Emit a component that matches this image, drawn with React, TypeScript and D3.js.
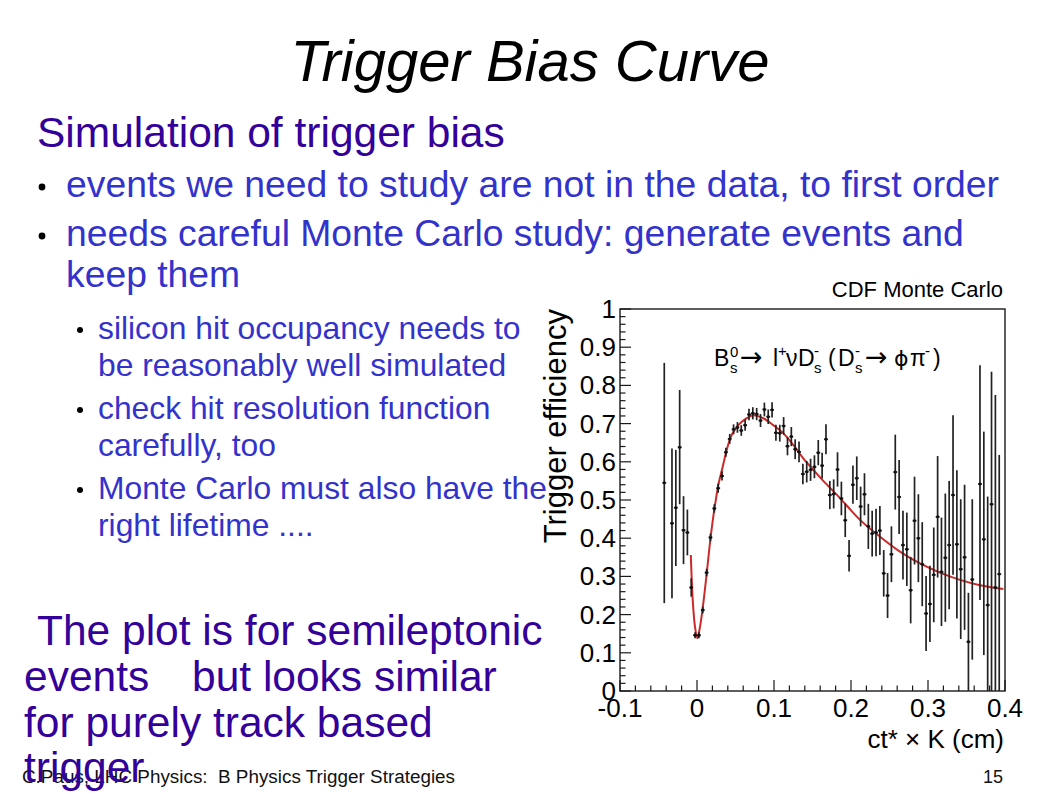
import React, { useRef, useEffect } from 'react';
import * as d3 from 'd3';

// Monte Carlo histogram: bin centre (ct* x K, cm), efficiency, lower / upper error
const binCenters = [
  -0.0425, -0.0325, -0.0275, -0.0225, -0.0175, -0.0125, -0.0075, -0.0025, 0.0025, 0.0075,
  0.0125, 0.0175, 0.0225, 0.0275, 0.0325, 0.0375, 0.0425, 0.0475, 0.0525, 0.0575,
  0.0625, 0.0675, 0.0725, 0.0775, 0.0825, 0.0875, 0.0925, 0.0975, 0.1025, 0.1075,
  0.1125, 0.1175, 0.1225, 0.1275, 0.1325, 0.1375, 0.1425, 0.1475, 0.1525, 0.1575,
  0.1625, 0.1675, 0.1725, 0.1775, 0.1825, 0.1875, 0.1925, 0.1975, 0.2025, 0.2075,
  0.2125, 0.2175, 0.2225, 0.2275, 0.2325, 0.2375, 0.2425, 0.2475, 0.2525, 0.2575,
  0.2625, 0.2675, 0.2725, 0.2775, 0.2825, 0.2875, 0.2925, 0.2975, 0.3025, 0.3075,
  0.3125, 0.3175, 0.3225, 0.3275, 0.3325, 0.3375, 0.3425, 0.3475, 0.3525, 0.3575,
  0.3675, 0.3725, 0.3775, 0.3825, 0.3875, 0.3925,
];
const efficiency = [
  0.545, 0.439, 0.48, 0.638, 0.421, 0.415, 0.271, 0.146, 0.146, 0.212,
  0.31, 0.402, 0.478, 0.531, 0.563, 0.625, 0.66, 0.685, 0.69, 0.682,
  0.696, 0.724, 0.727, 0.725, 0.708, 0.737, 0.718, 0.736, 0.676, 0.675,
  0.694, 0.641, 0.666, 0.633, 0.626, 0.568, 0.574, 0.579, 0.587, 0.624,
  0.59, 0.659, 0.513, 0.516, 0.58, 0.504, 0.447, 0.354, 0.54, 0.557,
  0.483, 0.515, 0.431, 0.412, 0.415, 0.42, 0.308, 0.25, 0.358, 0.573,
  0.508, 0.382, 0.371, 0.264, 0.446, 0.4, 0.332, 0.203, 0.228, 0.304,
  0.456, 0.312, 0.349, 0.382, 0.513, 0.384, 0.319, 0.35, 0.129, 0.292,
  0.542, 0.397, 0.225, 0.489, 0.271, 0.306,
];
const errLow = [
  0.315, 0.196, 0.153, 0.149, 0.089, 0.06, 0.024, 0.008, 0.008, 0.009,
  0.01, 0.01, 0.011, 0.012, 0.012, 0.012, 0.013, 0.013, 0.014, 0.014,
  0.015, 0.015, 0.016, 0.016, 0.017, 0.018, 0.019, 0.02, 0.021, 0.022,
  0.023, 0.024, 0.025, 0.026, 0.027, 0.027, 0.028, 0.029, 0.03, 0.033,
  0.034, 0.039, 0.037, 0.038, 0.045, 0.044, 0.044, 0.041, 0.05, 0.057,
  0.052, 0.055, 0.059, 0.06, 0.062, 0.064, 0.061, 0.059, 0.073, 0.098,
  0.097, 0.09, 0.096, 0.087, 0.115, 0.115, 0.11, 0.098, 0.1, 0.124,
  0.159, 0.142, 0.168, 0.168, 0.209, 0.194, 0.183, 0.19, 0.129, 0.21,
  0.304, 0.303, 0.225, 0.489, 0.271, 0.306,
];
const errHigh = [
  0.314, 0.196, 0.151, 0.15, 0.089, 0.06, 0.024, 0.008, 0.008, 0.009,
  0.01, 0.01, 0.011, 0.012, 0.012, 0.012, 0.013, 0.013, 0.014, 0.014,
  0.015, 0.015, 0.016, 0.016, 0.017, 0.018, 0.019, 0.02, 0.021, 0.022,
  0.023, 0.024, 0.025, 0.026, 0.027, 0.027, 0.028, 0.029, 0.03, 0.033,
  0.034, 0.039, 0.037, 0.038, 0.045, 0.044, 0.044, 0.041, 0.05, 0.057,
  0.052, 0.055, 0.059, 0.06, 0.062, 0.064, 0.061, 0.059, 0.073, 0.098,
  0.097, 0.09, 0.096, 0.087, 0.115, 0.115, 0.11, 0.098, 0.1, 0.124,
  0.159, 0.142, 0.168, 0.168, 0.209, 0.194, 0.183, 0.19, 0.128, 0.21,
  0.311, 0.282, 0.284, 0.347, 0.504, 0.312,
];

// fitted trigger bias curve
const fitX = [
  -0.008, -0.0056, -0.0026, 0.0004, 0.0039, 0.0082, 0.0126, 0.0178, 0.023, 0.0282,
  0.0334, 0.0386, 0.045, 0.0537, 0.0623, 0.0732, 0.086, 0.099, 0.112, 0.125,
  0.138, 0.151, 0.164, 0.1857, 0.2117, 0.2377, 0.2636, 0.2896, 0.3156, 0.3416,
  0.3675, 0.3978,
];
const fitY = [
  0.356, 0.24, 0.168, 0.138, 0.168, 0.23, 0.308, 0.404, 0.482, 0.544,
  0.587, 0.631, 0.67, 0.696, 0.711, 0.722, 0.714, 0.696, 0.675, 0.644,
  0.609, 0.579, 0.55, 0.505, 0.448, 0.404, 0.365, 0.334, 0.31, 0.291,
  0.277, 0.267,
];

const xTicks = [-0.1, 0, 0.1, 0.2, 0.3, 0.4];
const xTickLabels = ['-0.1', '0', '0.1', '0.2', '0.3', '0.4'];
const yTicks = [0, 0.1, 0.2, 0.3, 0.4, 0.5, 0.6, 0.7, 0.8, 0.9, 1];
const yTickLabels = ['0', '0.1', '0.2', '0.3', '0.4', '0.5', '0.6', '0.7', '0.8', '0.9', '1'];

const slideTitle = 'Trigger Bias Curve';
const heading = 'Simulation of trigger bias';
const bulletLines = [
  ['events we need to study are not in the data, to first order'],
  ['needs careful Monte Carlo study: generate events and', 'keep them'],
];
const subBulletLines = [
  ['silicon hit occupancy needs to', 'be reasonably well simulated'],
  ['check hit resolution function', 'carefully, too'],
  ['Monte Carlo must also have the', 'right lifetime ....'],
];
const footer = 'C.Paus, LHC Physics:  B Physics Trigger Strategies';
const pageNumber = '15';

const SANS = '"Liberation Sans", Arial, Helvetica, sans-serif';
const SYM = '"DejaVu Sans", "Liberation Sans", sans-serif';
const INDIGO = '#330099';
const BLUE = '#3333cc';

const PLOT = { left: 620, right: 1005, top: 309, bottom: 691 };

const App: React.FC = () => {
  const plotRef = useRef<SVGGElement>(null);

  useEffect(() => {
    if (!plotRef.current) return;
    const g = d3.select(plotRef.current);
    g.selectAll('*').remove();

    const x = d3.scaleLinear().domain([-0.1, 0.4]).range([PLOT.left, PLOT.right]);
    const y = d3.scaleLinear().domain([0, 1]).range([PLOT.bottom, PLOT.top]);
    const ink = '#1a1a1a';

    // frame
    g.append('rect')
      .attr('x', PLOT.left).attr('y', PLOT.top)
      .attr('width', PLOT.right - PLOT.left).attr('height', PLOT.bottom - PLOT.top)
      .attr('fill', 'none').attr('stroke', ink).attr('stroke-width', 1.4);

    // ticks drawn inside the frame, ROOT style
    const isMajor = (v: number) => Math.abs(v * 10 - Math.round(v * 10)) < 1e-6;
    g.selectAll('line.xt')
      .data(x.ticks(25))
      .join('line')
      .attr('x1', d => x(d)).attr('x2', d => x(d))
      .attr('y1', PLOT.bottom).attr('y2', d => PLOT.bottom - (isMajor(d) ? 11 : 5.5))
      .attr('stroke', ink).attr('stroke-width', 1.2);
    g.selectAll('line.yt')
      .data(y.ticks(50))
      .join('line')
      .attr('y1', d => y(d)).attr('y2', d => y(d))
      .attr('x1', PLOT.left).attr('x2', d => PLOT.left + (isMajor(d) ? 11 : 5.5))
      .attr('stroke', ink).attr('stroke-width', 1.2);

    // tick labels
    g.selectAll('text.xl')
      .data(xTicks)
      .join('text')
      .attr('x', d => x(d)).attr('y', 717)
      .attr('text-anchor', 'middle')
      .attr('font-family', SANS).attr('font-size', 26).attr('fill', '#000')
      .text((_, i) => xTickLabels[i]);
    g.selectAll('text.yl')
      .data(yTicks)
      .join('text')
      .attr('x', 616).attr('y', d => y(d) + 9)
      .attr('text-anchor', 'end')
      .attr('font-family', SANS).attr('font-size', 26).attr('fill', '#000')
      .text((_, i) => yTickLabels[i]);

    // axis titles
    g.append('text')
      .attr('transform', `translate(566, ${PLOT.top}) rotate(-90)`)
      .attr('text-anchor', 'end')
      .attr('font-family', SANS).attr('font-size', 31).attr('fill', '#000')
      .text('Trigger efficiency');
    g.append('text')
      .attr('x', 1004).attr('y', 748)
      .attr('text-anchor', 'end')
      .attr('font-family', SANS).attr('font-size', 26).attr('fill', '#000')
      .text('ct* \u00d7 K (cm)');

    // fit curve
    const line = d3.line<number>()
      .x(i => x(fitX[i]))
      .y(i => y(fitY[i]))
      .curve(d3.curveCatmullRom.alpha(0.5));
    g.append('path')
      .attr('d', line(d3.range(fitX.length))!)
      .attr('fill', 'none').attr('stroke', '#cc2a2a').attr('stroke-width', 2);

    // data points with error bars
    const pts = g.selectAll('g.pt')
      .data(d3.range(binCenters.length))
      .join('g');
    pts.append('line')
      .attr('x1', i => x(binCenters[i])).attr('x2', i => x(binCenters[i]))
      .attr('y1', i => y(Math.max(0, efficiency[i] - errLow[i])))
      .attr('y2', i => y(efficiency[i] + errHigh[i]))
      .attr('stroke', '#222').attr('stroke-width', 1.7);
    pts.append('line')
      .attr('x1', i => x(binCenters[i] - 0.0025)).attr('x2', i => x(binCenters[i] + 0.0025))
      .attr('y1', i => y(efficiency[i])).attr('y2', i => y(efficiency[i]))
      .attr('stroke', '#222').attr('stroke-width', 1.7);
    pts.append('circle')
      .attr('cx', i => x(binCenters[i])).attr('cy', i => y(efficiency[i]))
      .attr('r', 1.5).attr('fill', '#111');
  }, []);

  return (
    <svg width={1058} height={793} style={{ position: 'absolute', left: 0, top: 0, background: '#fff' }}>
      <rect x={0} y={0} width={1058} height={793} fill="#fff" />

      <text x={530} y={81} textAnchor="middle" fontFamily={SANS} fontSize={58} fontStyle="italic" fill="#000">
        {slideTitle}
      </text>

      <text x={37} y={147} fontFamily={SANS} fontSize={42.5} fill={INDIGO}>{heading}</text>

      {bulletLines.map((lines, bi) => {
        const base = [197, 246][bi];
        return (
          <g key={`b${bi}`}>
            <circle cx={42} cy={base - 10} r={3.4} fill="#000" />
            {lines.map((t, li) => (
              <text key={li} x={66} y={base + li * 41} fontFamily={SANS} fontSize={37.3} fill={BLUE}>{t}</text>
            ))}
          </g>
        );
      })}

      {subBulletLines.map((lines, bi) => {
        const base = [339, 419, 499][bi];
        return (
          <g key={`s${bi}`}>
            <circle cx={80} cy={base - 9} r={3} fill="#000" />
            {lines.map((t, li) => (
              <text key={li} x={98} y={base + li * 37} fontFamily={SANS} fontSize={31.8} fill={BLUE}>{t}</text>
            ))}
          </g>
        );
      })}

      <g ref={plotRef} />

      <text x={1003} y={297} textAnchor="end" fontFamily={SANS} fontSize={22} fill="#000">CDF Monte Carlo</text>

      <text fontFamily={SANS} fontSize={23} fill="#000" y={366}>
        <tspan x={714}>B</tspan>
        <tspan x={730} y={357} fontSize={15}>0</tspan>
        <tspan x={730} y={373} fontSize={15}>s</tspan>
        <tspan x={740} y={366} fontFamily={SYM} fontSize={27}>{'\u2192'}</tspan>
        <tspan x={773} fontSize={23}>l</tspan>
        <tspan x={778} y={356} fontSize={15}>+</tspan>
        <tspan x={786} y={366}>{'\u03bd'}</tspan>
        <tspan x={798}>D</tspan>
        <tspan x={814} y={356} fontSize={15}>-</tspan>
        <tspan x={814} y={373} fontSize={15}>s</tspan>
        <tspan x={828} y={366}>(</tspan>
        <tspan x={838}>D</tspan>
        <tspan x={855} y={356} fontSize={15}>-</tspan>
        <tspan x={855} y={373} fontSize={15}>s</tspan>
        <tspan x={865} y={366} fontFamily={SYM} fontSize={27}>{'\u2192'}</tspan>
        <tspan x={894} fontFamily={SYM} fontSize={22}>{'\u03d5'}</tspan>
        <tspan x={910} fontSize={23}>{'\u03c0'}</tspan>
        <tspan x={925} y={356} fontSize={15}>-</tspan>
        <tspan x={933} y={366}>)</tspan>
      </text>

      <text x={22} y={783} fontFamily={SANS} fontSize={18} fill="#111" textLength={433} lengthAdjust="spacingAndGlyphs" style={{ whiteSpace: 'pre' }}>
        {footer}
      </text>
      <text x={1003} y={783} textAnchor="end" fontFamily={SANS} fontSize={18} fill="#111">{pageNumber}</text>

      <g fontFamily={SANS} fontSize={42.5} fill={INDIGO}>
        <text x={37} y={645}>The plot is for semileptonic</text>
        <text x={24} y={691}>events</text>
        <text x={192} y={691}>but looks similar</text>
        <text x={24} y={737}>for purely track based</text>
        <text x={24} y={782}>trigger</text>
      </g>
    </svg>
  );
};

export default App;
